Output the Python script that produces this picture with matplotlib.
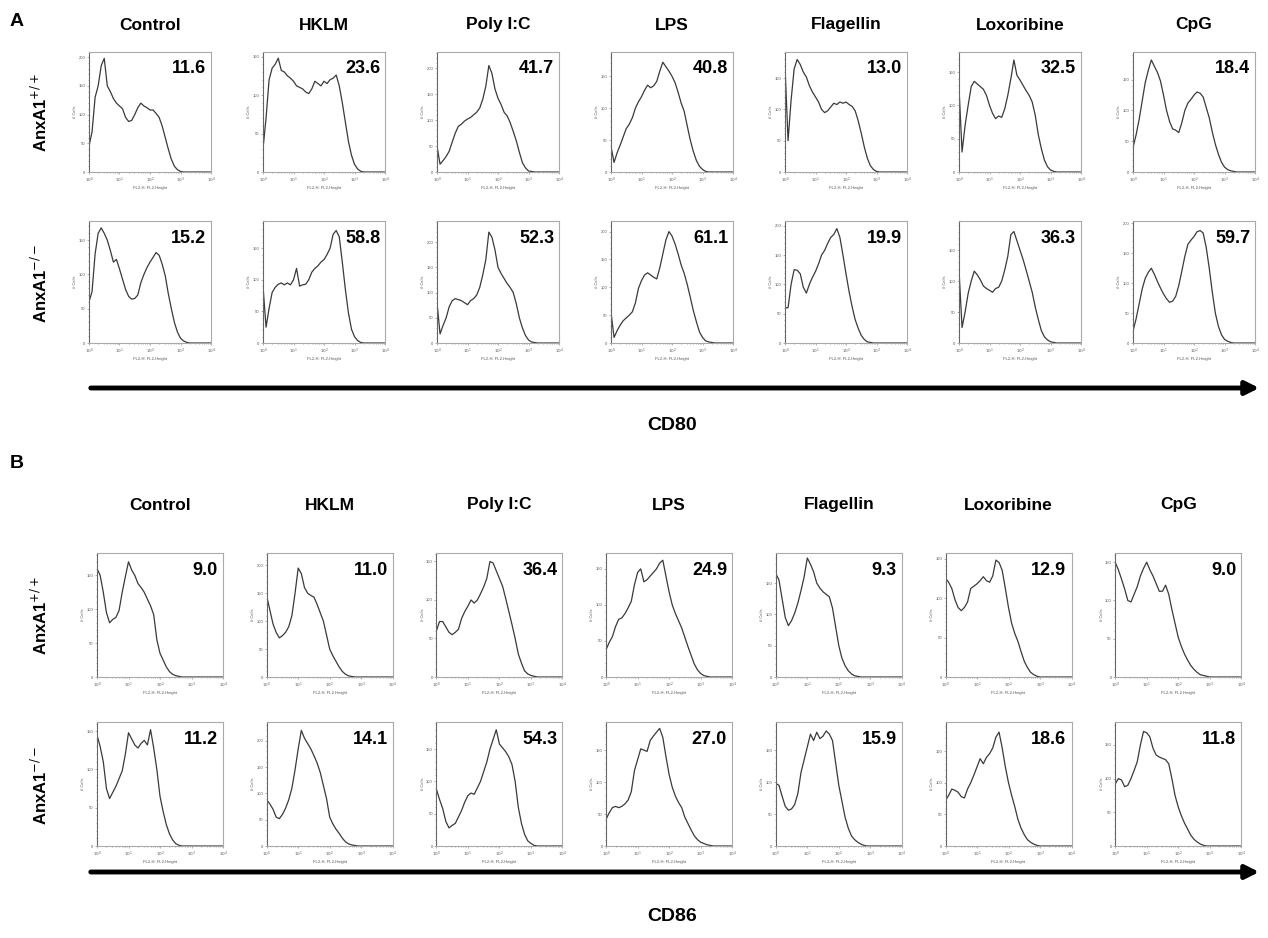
import numpy as np
import matplotlib
matplotlib.use('Agg')
import matplotlib.pyplot as plt
from matplotlib.patches import FancyArrowPatch
from matplotlib.ticker import AutoMinorLocator, FixedLocator

plt.rcParams['font.family'] = ['Liberation Sans', 'DejaVu Sans']

treatments = ['Control', 'HKLM', 'Poly I:C', 'LPS', 'Flagellin', 'Loxoribine', 'CpG']
# channel positions: log10 of fluorescence, one bin every 0.1 decade (10^0 .. 10^4)
decades = np.round(np.arange(0, 4.01, 0.1), 1)

# ---- CD80, AnxA1+/+ (# cells per bin) ----
cd80_wt_control = [45, 70, 130, 150, 185, 198, 150, 140, 128, 120, 115, 110, 95, 88, 90, 100, 112, 120, 115, 112, 108, 108, 102, 95, 80, 60, 40, 22, 10, 4, 1]
cd80_wt_hklm = [30, 70, 120, 135, 140, 148, 132, 130, 125, 122, 118, 112, 110, 108, 104, 102, 108, 118, 115, 112, 118, 115, 120, 122, 126, 112, 90, 65, 40, 22, 10, 4, 1]
cd80_wt_polyic = [50, 15, 22, 30, 40, 58, 75, 88, 92, 98, 102, 105, 110, 115, 123, 140, 165, 205, 190, 160, 142, 130, 115, 108, 95, 78, 60, 38, 18, 8, 2, 1]
cd80_wt_lps = [40, 15, 30, 42, 55, 68, 75, 85, 100, 110, 118, 128, 136, 132, 135, 142, 158, 172, 165, 158, 150, 140, 125, 108, 95, 72, 50, 32, 18, 9, 4, 1]
cd80_wt_flagellin = [170, 50, 115, 165, 180, 172, 160, 152, 138, 128, 120, 112, 100, 95, 98, 104, 110, 108, 112, 110, 112, 108, 105, 98, 82, 62, 40, 22, 10, 4, 1]
cd80_wt_loxoribine = [127, 30, 70, 100, 128, 136, 132, 128, 124, 115, 100, 88, 80, 84, 82, 95, 115, 140, 168, 145, 138, 130, 122, 115, 105, 85, 56, 35, 18, 8, 3, 1]
cd80_wt_cpg = [40, 60, 85, 115, 145, 165, 182, 172, 162, 148, 125, 100, 82, 70, 68, 64, 80, 100, 112, 118, 125, 130, 128, 122, 105, 88, 65, 45, 29, 16, 8, 4, 2, 1]

# ---- CD80, AnxA1-/- ----
cd80_ko_control = [60, 75, 130, 160, 168, 160, 150, 135, 118, 122, 108, 93, 78, 68, 64, 65, 70, 88, 100, 110, 118, 125, 132, 128, 115, 98, 72, 50, 30, 16, 7, 3, 1]
cd80_ko_hklm = [90, 25, 55, 80, 88, 93, 95, 92, 95, 92, 100, 118, 90, 92, 93, 100, 112, 118, 122, 128, 132, 140, 150, 172, 178, 168, 128, 85, 48, 22, 10, 4, 1]
cd80_ko_polyic = [80, 18, 35, 50, 72, 84, 88, 86, 84, 80, 76, 84, 88, 95, 110, 135, 165, 220, 210, 185, 150, 138, 128, 118, 110, 100, 78, 50, 30, 15, 6, 2, 1]
cd80_ko_lps = [55, 10, 22, 32, 40, 45, 50, 56, 72, 98, 112, 122, 126, 122, 118, 115, 135, 160, 185, 200, 192, 178, 160, 140, 125, 105, 82, 58, 38, 20, 10, 4, 2, 1]
cd80_ko_flagellin = [60, 60, 100, 125, 124, 118, 95, 85, 100, 112, 122, 135, 150, 158, 170, 180, 185, 195, 180, 150, 118, 88, 62, 40, 25, 13, 6, 2, 1]
cd80_ko_loxoribine = [118, 25, 50, 80, 100, 116, 110, 102, 92, 88, 85, 82, 88, 90, 100, 118, 140, 175, 180, 165, 150, 135, 118, 100, 82, 58, 38, 20, 10, 5, 2, 1]
cd80_ko_cpg = [20, 40, 65, 90, 108, 118, 125, 115, 103, 92, 82, 74, 68, 70, 78, 96, 120, 145, 165, 172, 178, 186, 188, 184, 160, 125, 85, 50, 28, 14, 6, 3, 1]

# ---- CD86, AnxA1+/+ ----
cd86_wt_control = [160, 150, 125, 95, 80, 85, 88, 98, 125, 148, 170, 158, 150, 138, 132, 125, 115, 105, 92, 55, 35, 25, 15, 8, 4, 2, 1]
cd86_wt_hklm = [145, 120, 95, 80, 70, 74, 80, 90, 110, 150, 195, 185, 160, 150, 146, 143, 130, 115, 100, 75, 50, 38, 28, 18, 10, 5, 2, 1]
cd86_wt_polyic = [60, 72, 72, 65, 58, 55, 58, 62, 76, 85, 92, 100, 96, 100, 108, 117, 128, 150, 148, 138, 128, 118, 102, 85, 68, 50, 30, 18, 8, 4, 2, 1]
cd86_wt_lps = [38, 48, 56, 70, 80, 82, 88, 96, 105, 128, 145, 150, 132, 135, 140, 145, 150, 158, 162, 140, 118, 100, 88, 78, 68, 55, 42, 30, 18, 10, 5, 2, 1]
cd86_wt_flagellin = [165, 155, 125, 95, 82, 90, 102, 118, 138, 160, 190, 180, 168, 150, 142, 136, 132, 128, 110, 80, 50, 30, 18, 10, 5, 2, 1]
cd86_wt_loxoribine = [125, 120, 112, 98, 88, 84, 88, 95, 112, 115, 118, 122, 127, 122, 120, 128, 148, 145, 135, 112, 88, 68, 55, 45, 32, 20, 12, 6, 3, 1]
cd86_wt_cpg = [150, 140, 128, 115, 100, 98, 108, 118, 132, 142, 150, 140, 132, 122, 112, 112, 120, 108, 88, 70, 52, 40, 30, 22, 15, 10, 6, 3, 2, 1]

# ---- CD86, AnxA1-/- ----
cd86_ko_control = [145, 130, 110, 75, 62, 70, 78, 88, 98, 120, 148, 140, 132, 128, 134, 138, 132, 152, 128, 100, 65, 45, 28, 16, 8, 3, 1]
cd86_ko_hklm = [88, 80, 70, 55, 52, 60, 72, 88, 110, 145, 185, 220, 205, 195, 185, 172, 158, 140, 115, 90, 55, 42, 32, 24, 15, 8, 4, 2, 1]
cd86_ko_polyic = [88, 72, 58, 38, 28, 32, 35, 45, 55, 68, 78, 82, 80, 90, 100, 115, 130, 150, 165, 180, 158, 152, 146, 138, 126, 100, 60, 35, 18, 8, 4, 1]
cd86_ko_lps = [42, 52, 60, 62, 60, 62, 66, 72, 85, 118, 135, 152, 150, 148, 165, 172, 178, 184, 170, 140, 112, 92, 78, 68, 60, 45, 35, 25, 16, 10, 6, 4, 2, 1]
cd86_ko_flagellin = [98, 95, 78, 62, 56, 58, 65, 82, 115, 135, 155, 175, 165, 178, 168, 172, 180, 175, 165, 130, 95, 70, 45, 28, 16, 10, 6, 3, 1]
cd86_ko_loxoribine = [72, 80, 90, 88, 85, 78, 76, 90, 100, 112, 125, 138, 130, 140, 146, 155, 172, 180, 155, 125, 100, 80, 62, 42, 28, 18, 10, 6, 3, 1]
cd86_ko_cpg = [92, 100, 98, 88, 90, 100, 112, 125, 150, 170, 168, 162, 145, 135, 132, 130, 128, 122, 100, 75, 58, 45, 34, 25, 16, 10, 6, 3, 1]

# % positive shown in each panel
cd80_wt_pct = ['11.6', '23.6', '41.7', '40.8', '13.0', '32.5', '18.4']
cd80_ko_pct = ['15.2', '58.8', '52.3', '61.1', '19.9', '36.3', '59.7']
cd86_wt_pct = ['9.0', '11.0', '36.4', '24.9', '9.3', '12.9', '9.0']
cd86_ko_pct = ['11.2', '14.1', '54.3', '27.0', '15.9', '18.6', '11.8']

# y-axis maximum of each panel
cd80_wt_ymax = [209, 156, 231, 188, 192, 180, 195]
cd80_ko_ymax = [178, 193, 242, 219, 208, 197, 204]
cd86_wt_ymax = [183, 222, 161, 172, 198, 157, 162]
cd86_ko_ymax = [162, 236, 192, 194, 194, 196, 184]

rows = [
    ([cd80_wt_control, cd80_wt_hklm, cd80_wt_polyic, cd80_wt_lps, cd80_wt_flagellin, cd80_wt_loxoribine, cd80_wt_cpg], cd80_wt_pct, cd80_wt_ymax),
    ([cd80_ko_control, cd80_ko_hklm, cd80_ko_polyic, cd80_ko_lps, cd80_ko_flagellin, cd80_ko_loxoribine, cd80_ko_cpg], cd80_ko_pct, cd80_ko_ymax),
    ([cd86_wt_control, cd86_wt_hklm, cd86_wt_polyic, cd86_wt_lps, cd86_wt_flagellin, cd86_wt_loxoribine, cd86_wt_cpg], cd86_wt_pct, cd86_wt_ymax),
    ([cd86_ko_control, cd86_ko_hklm, cd86_ko_polyic, cd86_ko_lps, cd86_ko_flagellin, cd86_ko_loxoribine, cd86_ko_cpg], cd86_ko_pct, cd86_ko_ymax),
]

W, H = 1268, 938
fig = plt.figure(figsize=(W / 100, H / 100), dpi=100)

def fx(px):
    return px / W

def fy(py):
    return 1 - py / H

# panel layout in pixels: (first left, column step, width, top, bottom)
row_geom = [
    (89, 174, 122, 52, 172),
    (89, 174, 122, 221, 343),
    (97, 169.7, 126, 553, 677),
    (97, 169.7, 126, 722, 846),
]

for r, (curves, pcts, ymaxes) in enumerate(rows):
    left0, step, width, top, bottom = row_geom[r]
    for c in range(7):
        left = left0 + c * step
        ax = fig.add_axes([fx(left), fy(bottom), width / W, (bottom - top) / H])
        vals = list(curves[c]) + [0] * (len(decades) - len(curves[c]))
        ax.plot(10 ** decades, vals, color='#3a3a3a', lw=0.9)
        ax.set_xscale('log')
        ax.set_xlim(1, 1e4)
        ax.set_ylim(0, ymaxes[c])
        ax.xaxis.set_major_locator(FixedLocator([1, 10, 100, 1000, 10000]))
        ax.set_xticklabels([r'$10^0$', r'$10^1$', r'$10^2$', r'$10^3$', r'$10^4$'])
        ax.set_yticks([t for t in range(0, 251, 50) if t <= ymaxes[c]])
        ax.yaxis.set_minor_locator(AutoMinorLocator(5))
        ax.tick_params(which='both', direction='out', length=1.5, width=0.4,
                       color='#777777', labelsize=3, pad=1, labelcolor='#555555')
        ax.tick_params(which='minor', length=1)
        ax.set_xlabel('FL2-H: FL2-Height', fontsize=3, labelpad=1, color='#555555')
        ax.set_ylabel('# Cells', fontsize=3, labelpad=1, color='#555555')
        for s in ax.spines.values():
            s.set_color('#aaaaaa')
            s.set_linewidth(0.8)
        ax.spines['left'].set_color('#666666')
        ax.text(0.96, 0.93, pcts[c], transform=ax.transAxes, ha='right', va='top',
                fontsize=13, fontweight='bold')
        if r in (0, 2):
            fig.text(fx(left + width / 2), fy(25 if r == 0 else 505), treatments[c],
                     ha='center', va='center', fontsize=12.5, fontweight='bold')

# genotype labels
fig.text(fx(40), fy(112), r'AnxA1$^{+/+}$', rotation=90, ha='center', va='center', fontsize=12, fontweight='bold')
fig.text(fx(40), fy(283), r'AnxA1$^{-/-}$', rotation=90, ha='center', va='center', fontsize=12, fontweight='bold')
fig.text(fx(40), fy(615), r'AnxA1$^{+/+}$', rotation=90, ha='center', va='center', fontsize=12, fontweight='bold')
fig.text(fx(40), fy(785), r'AnxA1$^{-/-}$', rotation=90, ha='center', va='center', fontsize=12, fontweight='bold')

# panel letters
fig.text(fx(10), fy(22), 'A', ha='left', va='center', fontsize=14, fontweight='bold')
fig.text(fx(10), fy(463), 'B', ha='left', va='center', fontsize=14, fontweight='bold')

# marker arrows
for y_arrow, y_lab, lab in [(388, 425, 'CD80'), (872, 916, 'CD86')]:
    arr = FancyArrowPatch((fx(88), fy(y_arrow)), (fx(1262), fy(y_arrow)), transform=fig.transFigure,
                          arrowstyle='-|>', mutation_scale=20, lw=3.5, color='black')
    fig.add_artist(arr)
    fig.text(fx(672), fy(y_lab), lab, ha='center', va='center', fontsize=14, fontweight='bold')

fig.savefig('out.png', dpi=100)
